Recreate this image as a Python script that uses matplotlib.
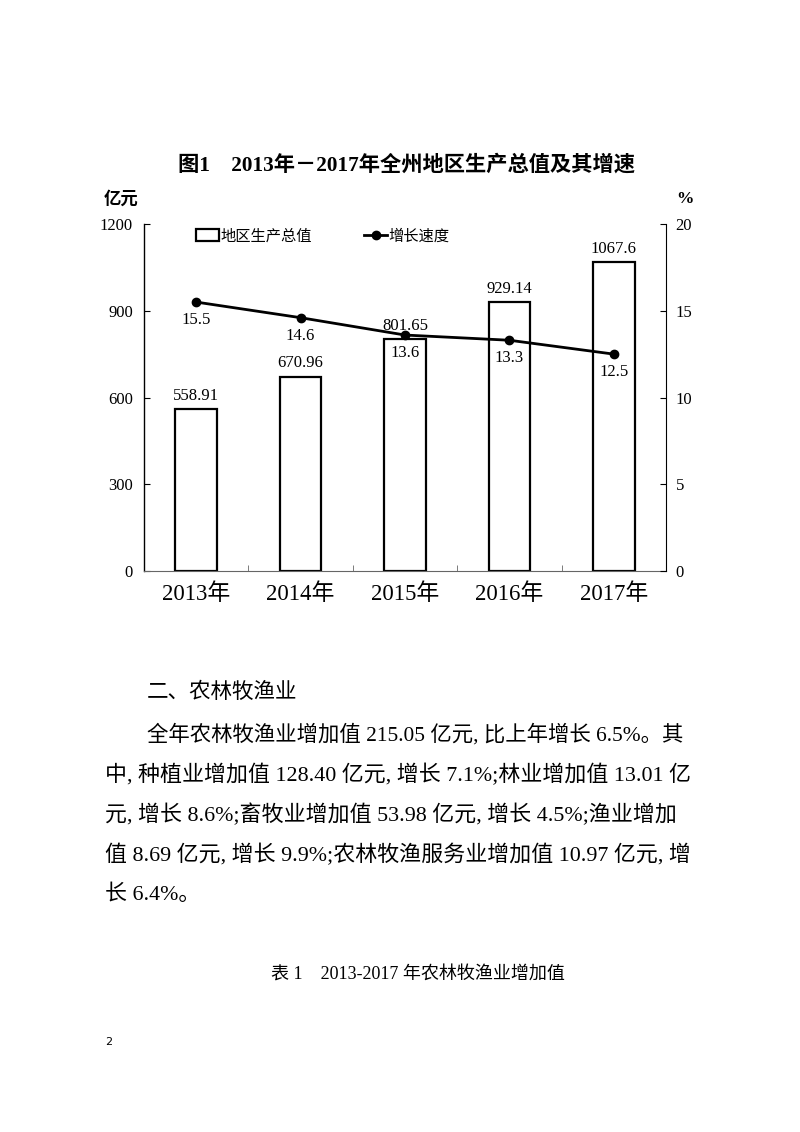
import matplotlib
matplotlib.use("Agg")
import matplotlib.pyplot as plt
from matplotlib.ticker import FixedLocator

plt.rcParams['font.family'] = ['Liberation Serif', 'Noto Sans CJK SC']

# datos del grafico
years = ["2013年", "2014年", "2015年", "2016年", "2017年"]
gdp = [558.91, 670.96, 801.65, 929.14, 1067.6]
growth = [15.5, 14.6, 13.6, 13.3, 12.5]
left_ticks = [0, 300, 600, 900, 1200]
right_ticks = [0, 5, 10, 15, 20]

body_lines = [
    "全年农林牧渔业增加值 215.05 亿元, 比上年增长 6.5%。其",
    "中, 种植业增加值 128.40 亿元, 增长 7.1%;林业增加值 13.01 亿",
    "元, 增长 8.6%;畜牧业增加值 53.98 亿元, 增长 4.5%;渔业增加",
    "值 8.69 亿元, 增长 9.9%;农林牧渔服务业增加值 10.97 亿元, 增",
    "长 6.4%。",
]

W, H = 800, 1132
fig = plt.figure(figsize=(8, 11.32), dpi=100)
fig.patch.set_facecolor("white")


def fx(px):
    return px / W


def fy(py):
    return 1 - py / H


ax = fig.add_axes([fx(144), fy(571), fx(666) - fx(144), fy(224) - fy(571)])
x = list(range(len(years)))

bars = ax.bar(x, gdp, width=0.4, color="white", edgecolor="black",
              linewidth=1.6, label="地区生产总值", zorder=2)
ax.bar_label(bars, labels=[str(v) for v in gdp], padding=4, fontsize=12)

ax.set_xlim(-0.5, 4.5)
ax.set_ylim(0, 1200)
ax.set_yticks(left_ticks)
ax.set_xticks(x)
ax.set_xticklabels(years, fontsize=16.5)
ax.xaxis.set_minor_locator(FixedLocator([0.5, 1.5, 2.5, 3.5]))
ax.tick_params(axis="x", which="major", length=0, pad=9)
ax.tick_params(axis="x", which="minor", direction="in", length=4, color="#666666")
ax.tick_params(axis="y", direction="in", length=4, pad=8, labelsize=12)

ax.spines["top"].set_visible(False)
ax.spines["right"].set_visible(False)
ax.spines["bottom"].set_color("#666666")
ax.spines["left"].set_linewidth(1.0)

ax2 = ax.twinx()
line, = ax2.plot(x, growth, color="black", linewidth=2, marker="o",
                 markersize=6, label="增长速度", zorder=3)
for xi, g in zip(x, growth):
    ax2.annotate(f"{g:.1f}", (xi, g), xytext=(0, -13), textcoords="offset points",
                 ha="center", va="center", fontsize=12)
ax2.set_ylim(0, 20)
ax2.set_yticks(right_ticks)
ax2.tick_params(axis="y", direction="in", length=4, pad=7, labelsize=12)
ax2.spines["top"].set_visible(False)
ax2.spines["left"].set_visible(False)
ax2.spines["bottom"].set_visible(False)

ax2.legend([bars, line], ["地区生产总值", "增长速度"], loc="upper left",
           bbox_to_anchor=(0.1, 0.985), ncol=2, frameon=False, fontsize=11,
           borderpad=0, borderaxespad=0, handlelength=1.5, handleheight=0.85,
           handletextpad=0.1, columnspacing=3.4)

# textos de la pagina
fig.text(fx(407), fy(165), "图1　2013年－2017年全州地区生产总值及其增速",
         ha="center", va="center", fontsize=15.3, fontweight="bold")
fig.text(fx(104), fy(199), "亿元", ha="left", va="center", fontsize=12.5,
         fontweight="bold")
fig.text(fx(685), fy(199), "%", ha="center", va="center", fontsize=12.5,
         fontweight="bold")

fig.text(fx(147), fy(693), "二、农林牧渔业", ha="left", va="center", fontsize=15.5)
ys = [735, 775, 815, 855, 895]
for i, (t, yy) in enumerate(zip(body_lines, ys)):
    fig.text(fx(147 if i == 0 else 105), fy(yy), t, ha="left", va="center",
             fontsize=15.4 if i == 0 else 15.8)

fig.text(fx(418), fy(975), "表 1　2013-2017 年农林牧渔业增加值", ha="center",
         va="center", fontsize=13)
fig.text(fx(105), fy(1042), "2", ha="left", va="center", fontsize=8,
         family="DejaVu Sans")

fig.savefig("out.png", dpi=100)
